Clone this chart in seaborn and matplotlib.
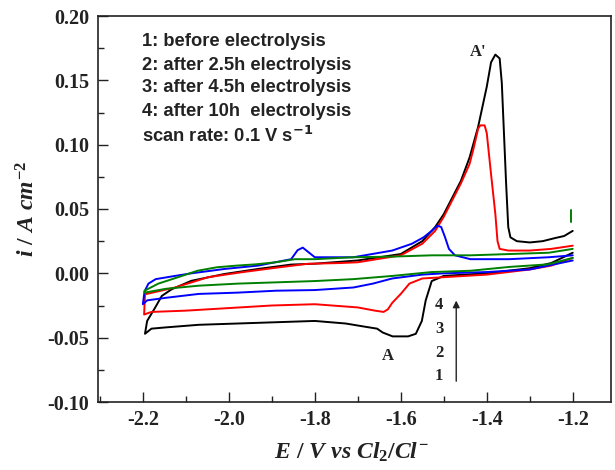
import numpy as np
import pandas as pd
import matplotlib
matplotlib.use("Agg")
import matplotlib.pyplot as plt
from matplotlib.ticker import MultipleLocator
import seaborn as sns

# ---- data ----
# curve 1: before electrolysis (black)
E1 = [-1.20, -1.25, -1.30, -1.35, -1.40, -1.45, -1.50, -1.528, -1.542, -1.551, -1.565, -1.583,
      -1.619, -1.642, -1.655, -1.683, -1.728, -1.80, -1.89, -1.98, -2.07, -2.146, -2.18, -2.195,
      -2.19, -2.172, -2.156, -2.133, -2.087, -2.01, -1.932, -1.855, -1.80, -1.70, -1.60, -1.55,
      -1.52, -1.50, -1.48, -1.46, -1.44, -1.42, -1.40, -1.39, -1.38, -1.37, -1.365, -1.36,
      -1.355, -1.35, -1.345, -1.33, -1.30, -1.27, -1.24, -1.22, -1.21, -1.20]
I1 = [0.016, 0.008, 0.004, 0.002, 0.000, -0.001, -0.002, -0.006, -0.021, -0.037, -0.047, -0.049,
      -0.049, -0.046, -0.043, -0.0415, -0.039, -0.037, -0.038, -0.039, -0.040, -0.042, -0.043, -0.047,
      -0.037, -0.027, -0.0176, -0.0124, -0.0058, -0.0005, 0.0034, 0.0068, 0.0075, 0.010, 0.015, 0.025,
      0.036, 0.046, 0.059, 0.072, 0.090, 0.114, 0.145, 0.164, 0.170, 0.167, 0.148, 0.109,
      0.070, 0.036, 0.028, 0.025, 0.024, 0.025, 0.0275, 0.029, 0.031, 0.033]

# curve 2: after 2.5 h (red)
E2 = [-1.20, -1.25, -1.30, -1.35, -1.40, -1.45, -1.50, -1.55, -1.58, -1.60, -1.62, -1.63, -1.64,
      -1.66, -1.70, -1.80, -1.90, -2.00, -2.10, -2.18, -2.197,
      -2.195, -2.125, -2.048, -1.971, -1.894, -1.817, -1.74, -1.70, -1.60, -1.55, -1.52, -1.50,
      -1.48, -1.46, -1.44, -1.43, -1.42, -1.415, -1.405, -1.40, -1.39, -1.38, -1.375, -1.37,
      -1.35, -1.30, -1.25, -1.20]
I2 = [0.012, 0.006, 0.003, 0.001, -0.001, -0.002, -0.003, -0.004, -0.008, -0.016, -0.023, -0.028, -0.030,
      -0.029, -0.0265, -0.024, -0.025, -0.027, -0.029, -0.030, -0.032,
      -0.0163, -0.011, -0.003, 0.0008, 0.0042, 0.0074, 0.0080, 0.0086, 0.014, 0.023, 0.033, 0.044,
      0.057, 0.070, 0.085, 0.098, 0.1125, 0.115, 0.115, 0.109, 0.077, 0.046, 0.025, 0.019,
      0.0177, 0.0177, 0.019, 0.0215]

# curve 3: after 4.5 h (blue)
E3 = [-1.20, -1.30, -1.40, -1.50, -1.55, -1.62, -1.665, -1.71, -1.80, -1.89, -1.98, -2.07,
      -2.146, -2.19, -2.20,
      -2.196, -2.187, -2.17, -2.125, -2.087, -2.01, -1.932, -1.855, -1.84, -1.828, -1.80, -1.71,
      -1.62, -1.574, -1.547, -1.528, -1.515, -1.506, -1.497, -1.488, -1.474, -1.438, -1.347,
      -1.256, -1.20]
I3 = [0.010, 0.003, 0.001, 0.000, -0.001, -0.004, -0.008, -0.011, -0.013, -0.0135, -0.015, -0.016,
      -0.019, -0.021, -0.024,
      -0.014, -0.008, -0.0045, -0.002, 0.000, 0.0034, 0.006, 0.011, 0.018, 0.020, 0.0125, 0.0125,
      0.0177, 0.023, 0.028, 0.033, 0.037, 0.036, 0.028, 0.019, 0.014, 0.011, 0.011,
      0.0125, 0.014]

# curve 4: after 10 h (green)
E4 = [-1.20, -1.257, -1.347, -1.438, -1.528, -1.619, -1.71, -1.80, -1.89, -1.98, -2.07, -2.146, -2.196,
      -2.196, -2.164, -2.118, -2.073, -2.028, -1.982, -1.937, -1.891, -1.846, -1.80, -1.71, -1.619,
      -1.528, -1.438, -1.347, -1.256, -1.20]
I4 = [0.012, 0.007, 0.005, 0.002, 0.001, -0.002, -0.0045, -0.006, -0.007, -0.008, -0.0096, -0.012, -0.015,
      -0.0135, -0.008, -0.003, 0.002, 0.0047, 0.006, 0.007, 0.0086, 0.011, 0.011, 0.0125, 0.013,
      0.014, 0.014, 0.015, 0.016, 0.019]
# small green dash at the right end
E4b = [-1.205, -1.205]
I4b = [0.040, 0.049]

labels = ["1: before electrolysis", "2: after 2.5h electrolysis",
          "3: after 4.5h electrolysis", "4: after 10h  electrolysis"]
colors = ["#000000", "#ff0000", "#0000ff", "#008000"]
xtick_vals = [-2.2, -2.0, -1.8, -1.6, -1.4, -1.2]
xtick_labels = ["-2.2", "-2.0", "-1.8", "-1.6", "-1.4", "-1.2"]
ytick_vals = [-0.10, -0.05, 0.0, 0.05, 0.10, 0.15, 0.20]
ytick_labels = ["-0.10", "-0.05", "0.00", "0.05", "0.10", "0.15", "0.20"]

frames = []
for k, (E, I) in enumerate([(E1, I1), (E2, I2), (E3, I3), (E4, I4)]):
    frames.append(pd.DataFrame({"E": E, "i": I, "curve": labels[k]}))
df = pd.concat(frames, ignore_index=True)

sns.set_style("ticks")
plt.rcParams["font.family"] = ["Liberation Serif", "DejaVu Serif"]
plt.rcParams["mathtext.fontset"] = "custom"
plt.rcParams["mathtext.it"] = "Liberation Serif:italic:bold"
plt.rcParams["mathtext.rm"] = "Liberation Serif:bold"
plt.rcParams["mathtext.bf"] = "Liberation Serif:bold"

fig = plt.figure(figsize=(6.15, 4.70), dpi=100)
ax = fig.add_axes([97.7 / 615, 68 / 470, (611 - 97.7) / 615, 386 / 470])

for k, lab in enumerate(labels):
    sub = df[df["curve"] == lab]
    sns.lineplot(data=sub, x="E", y="i", sort=False, estimator=None, color=colors[k],
                 lw=1.4, ax=ax, legend=False, zorder=2 + k)
ax.plot(E4b, I4b, color=colors[3], lw=1.4, zorder=6)

ax.set_xlim(-2.305, -1.111)
ax.set_ylim(-0.10, 0.20)
ax.xaxis.set_minor_locator(MultipleLocator(0.1))
ax.yaxis.set_minor_locator(MultipleLocator(0.025))
ax.set_xticks(xtick_vals)
ax.set_xticklabels(xtick_labels)
ax.set_yticks(ytick_vals)
ax.set_yticklabels(ytick_labels)
ax.tick_params(which="both", direction="in", top=False, right=False, width=1.0, color="#222222")
ax.tick_params(which="major", length=7, labelsize=14.5, pad=6)
ax.tick_params(which="minor", length=4)
for t in ax.get_xticklabels() + ax.get_yticklabels():
    t.set_fontweight("bold")
    t.set_color("#222222")
for s in ax.spines.values():
    s.set_linewidth(1.2)
    s.set_color("#222222")

ax.set_xlabel("")
ax.set_ylabel("")
fig.text(351 / 615, 1 - 452 / 470, r"$E\ /\ V\ vs\ Cl_2/Cl^{-}$", ha="center", va="center",
         fontsize=17, color="#222222")
fig.text(28 / 615, 1 - 209 / 470, r"$i\ /\ A\ cm^{-2}$", ha="center", va="center", rotation=90,
         fontsize=17, color="#222222")

legend_y = [41.7, 65, 88, 112]
for lab, yy in zip(labels, legend_y):
    fig.text(141.5 / 615, 1 - yy / 470, lab, fontsize=13.2, fontweight="bold",
             family="Liberation Sans", va="center", color="#222222")
fig.text(141.5 / 615, 1 - 136 / 470, r"scan rate: 0.1 V s$^{\mathbf{-1}}$", fontsize=13.2,
         fontweight="bold", family="Liberation Sans", va="center", color="#222222",
         math_fontfamily="dejavusans")

ax.text(-1.42, 0.172, "A'", fontsize=12, fontweight="bold", ha="center", va="center",
        color="#222222")
ax.text(-1.63, -0.064, "A", fontsize=12, fontweight="bold", ha="center", va="center",
        color="#222222")
for num, yy in zip(["4", "3", "2", "1"], [-0.0245, -0.043, -0.0618, -0.080]):
    ax.text(-1.511, yy, num, fontsize=12, fontweight="bold", ha="center", va="center",
            color="#222222")
ax.annotate("", xy=(-1.471, -0.019), xytext=(-1.471, -0.086),
            arrowprops=dict(arrowstyle="-|>", color="#222222", lw=1.0, mutation_scale=10))

fig.savefig("out.png", dpi=100)
